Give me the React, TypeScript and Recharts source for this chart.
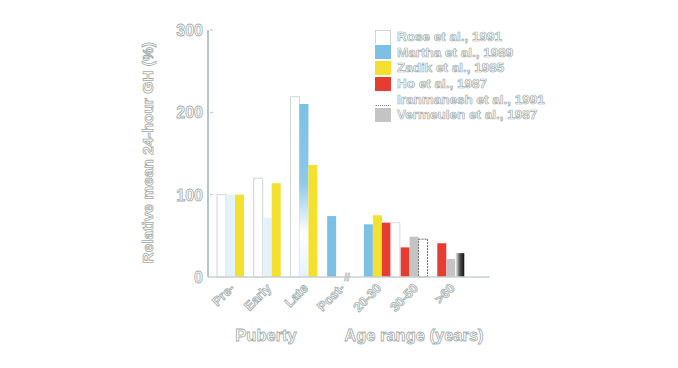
import { Bar, BarChart, Cell, XAxis, YAxis } from 'recharts'

const categories = ['Pre-', 'Early', 'Late', 'Post-', '20-30', '30-50', '>60']
const yTicks = [0, 100, 200, 300]

const rose = [100, 120, 219, null, null, null, null]
const martha = [100, 72, 210, 74, 64, null, null]
const zadik = [100, 114, 136, null, 75, null, null]
const ho = [null, null, null, null, 66, 36, 41]
const iranmanesh = [null, null, null, null, 66, 46, 29]
const vermeulen = [null, null, null, null, null, 49, 22]

const series = [
  { key: 'rose', name: 'Rose et al., 1991', values: rose, fill: '#ffffff', stroke: '#cfd6d6' },
  { key: 'martha', name: 'Martha et al., 1989', values: martha, fill: '#7cc0e6', stroke: 'none' },
  { key: 'zadik', name: 'Zadik et al., 1985', values: zadik, fill: '#f4e12f', stroke: 'none' },
  { key: 'ho', name: 'Ho et al., 1987', values: ho, fill: '#e63d32', stroke: 'none' },
  { key: 'iranmanesh', name: 'Iranmanesh et al., 1991', values: iranmanesh, fill: '#ffffff', stroke: '#999' },
  { key: 'vermeulen', name: 'Vermeulen et al., 1987', values: vermeulen, fill: '#c4c4c4', stroke: 'none' },
]

// order of bars inside a group (differs from the legend)
const slotOrder = ['rose', 'martha', 'zadik', 'ho', 'vermeulen', 'iranmanesh']
const slots = [0, 1, 2, 3]

const byKey: Record<string, any> = {}
series.forEach((s) => (byKey[s.key] = s))

const data = categories.map((c, i) => {
  const row: any = { name: c }
  const present = slotOrder.filter((k) => byKey[k].values[i] != null)
  present.forEach((k, j) => {
    row['s' + j] = byKey[k].values[i]
    row['k' + j] = k
  })
  return row
})

const txt = {
  fill: '#ffffff',
  stroke: '#a3adad',
  strokeWidth: 0.8,
  fontFamily: 'Liberation Sans, Arial, sans-serif',
  fontWeight: 700,
}

function cellFill(row: any, slot: number) {
  const k = row['k' + slot]
  if (!k) return 'none'
  if (k === 'martha' && (row.name === 'Pre-' || row.name === 'Early')) return '#e4f2fb'
  if (k === 'martha' && row.name === 'Late') return 'url(#marthaFade)'
  if (k === 'iranmanesh' && row.name === '>60') return 'url(#darkFade)'
  return byKey[k].fill
}

function cellStroke(row: any, slot: number) {
  const k = row['k' + slot]
  if (!k) return 'none'
  if (k === 'iranmanesh') return row.name === '20-30' ? '#d5dbdb' : row.name === '30-50' ? '#666' : 'none'
  return byKey[k].stroke
}

function XTick(props: any) {
  const { x, y, payload, index } = props
  return (
    <g>
      <text
        x={x}
        y={y + 4}
        textAnchor="end"
        fontSize={13}
        transform={`rotate(-45 ${x} ${y + 4})`}
        {...txt}
      >
        {payload.value}
      </text>
      {index === 4 && (
        <text x={x - 38} y={y - 4} fontSize={10} {...txt} strokeWidth={0.6}>
          //
        </text>
      )}
      {index === 1 && (
        <text x={x - 6} y={y + 56} textAnchor="middle" fontSize={16.5} {...txt}>
          Puberty
        </text>
      )}
      {index === 5 && (
        <text x={x - 5} y={y + 56} textAnchor="middle" fontSize={16.5} {...txt}>
          Age range (years)
        </text>
      )}
    </g>
  )
}

function YTick(props: any) {
  const { x, y, payload } = props
  return (
    <g>
      <text x={x + 3} y={y + 6} textAnchor="end" fontSize={16} {...txt}>
        {payload.value}
      </text>
      {payload.value > 0 && (
        <line x1={x + 10} x2={x + 13} y1={y} y2={y} stroke="#b8c4c4" strokeWidth={1} />
      )}
    </g>
  )
}

function LegendBox() {
  return (
    <div style={{ position: 'absolute', left: 375, top: 29, display: 'flex', flexDirection: 'column' }}>
      {series.map((s) => (
        <div key={s.key} style={{ display: 'flex', alignItems: 'center', height: 15.6 }}>
          <div
            style={{
              width: 16,
              height: 14,
              background: s.fill,
              border: s.key === 'rose' ? '1px solid #cfd6d6' : '1px solid transparent',
              borderBottom: s.key === 'iranmanesh' ? '1px dotted #888' : undefined,
              boxSizing: 'border-box',
              marginRight: 6,
            }}
          />
          <span
            style={{
              fontFamily: 'Liberation Sans, Arial, sans-serif',
              fontWeight: 700,
              fontSize: 13.5,
              color: '#ffffff',
              WebkitTextStroke: '0.7px #a3adad',
              whiteSpace: 'nowrap',
            }}
          >
            {s.name}
          </span>
        </div>
      ))}
    </div>
  )
}

export default function App() {
  return (
    <div style={{ position: 'absolute', left: 0, top: 0, width: 678, height: 368, background: '#fff' }}>
      <BarChart
        width={678}
        height={368}
        data={data}
        margin={{ top: 30, right: 188, bottom: 31, left: 136 }}
        barGap={0}
        barCategoryGap={0}
        barSize={9}
      >
        <defs>
          <linearGradient id="marthaFade" x1="0" y1="0" x2="0" y2="1">
            <stop offset="0%" stopColor="#7cc0e6" />
            <stop offset="45%" stopColor="#8cc8ea" />
            <stop offset="75%" stopColor="#ffffff" />
            <stop offset="100%" stopColor="#e4f2fb" />
          </linearGradient>
          <linearGradient id="darkFade" x1="0" y1="0" x2="1" y2="0">
            <stop offset="0%" stopColor="#ffffff" />
            <stop offset="50%" stopColor="#555" />
            <stop offset="100%" stopColor="#111" />
          </linearGradient>
        </defs>
        <XAxis
          dataKey="name"
          interval={0}
          padding={{ left: 9, right: 16 }}
          tickLine={false}
          axisLine={{ stroke: '#c9d1d1', strokeWidth: 1.5 }}
          height={60}
          tick={<XTick />}
        />
        <YAxis
          domain={[0, 300]}
          ticks={yTicks}
          width={72}
          tickLine={false}
          axisLine={{ stroke: '#b8c6c6', strokeWidth: 2 }}
          tick={<YTick />}
          label={{
            value: 'Relative mean 24-hour GH (%)',
            angle: -90,
            position: 'insideLeft',
            dx: 6,
            dy: 110,
            style: { ...txt, fontSize: 15.5, textAnchor: 'start' },
          }}
        />
        {slots.map((slot) => (
          <Bar key={slot} dataKey={'s' + slot} isAnimationActive={false}>
            {data.map((row, i) => {
              const k = row['k' + slot]
              return (
                <Cell
                  key={i}
                  fill={cellFill(row, slot)}
                  stroke={cellStroke(row, slot)}
                  strokeDasharray={k === 'iranmanesh' && row.name === '30-50' ? '2 1' : undefined}
                />
              )
            })}
          </Bar>
        ))}
      </BarChart>
      <LegendBox />
    </div>
  )
}
